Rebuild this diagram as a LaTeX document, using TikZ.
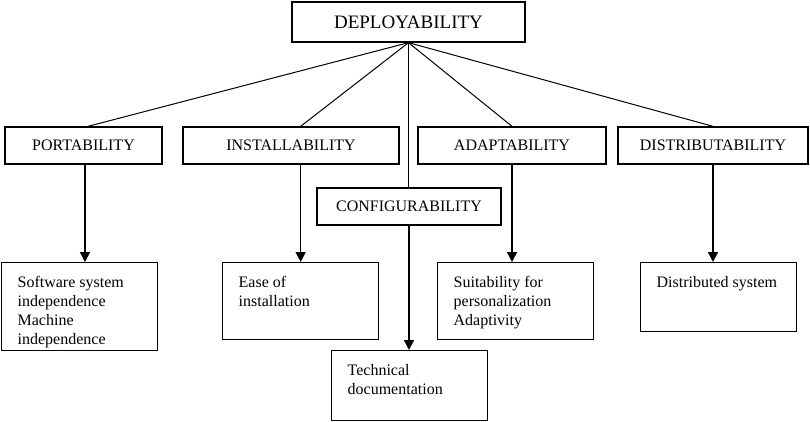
\documentclass[tikz,border=0pt]{standalone}
\usepackage{fontspec}
\setmainfont{Liberation Serif}
\usetikzlibrary{arrows.meta,positioning,calc}
\newcommand{\lblfont}{\fontsize{16}{19}\selectfont}
\newcommand{\topfont}{\fontsize{19}{22}\selectfont}
\newcommand{\leaftext}[2]{\begin{minipage}[t][#1][t]{124pt}\raggedright #2\end{minipage}}
\tikzset{
  topbox/.style={
    draw=black,fill=white,line width=1.3pt,
    minimum width=233pt,minimum height=40pt,
    inner sep=0pt,font=\topfont
  },
  attrbox/.style={
    draw=black,fill=white,line width=1.3pt,
    minimum height=37pt,inner sep=0pt,font=\lblfont
  },
  leafbox/.style={
    draw=black,fill=white,line width=1.3pt,anchor=north west,
    inner xsep=16pt,inner ysep=14pt,font=\lblfont
  },
  link/.style={draw=black,line width=1pt},
  arrow/.style={-{Triangle[length=10pt,width=10pt]},draw=black,line width=1.5pt}
}
\begin{document}
\begin{tikzpicture}[x=1pt,y=1pt]
\useasboundingbox (0,0) rectangle (810,-422);
% top level
\node[topbox] (dep) at (408.5,-22) {DEPLOYABILITY};
% attributes
\node[attrbox,minimum width=157pt] (port) at (83.5,-145.5) {PORTABILITY};
\node[attrbox,minimum width=216pt] (inst) at (291,-145.5) {INSTALLABILITY};
\node[attrbox,minimum width=188pt] (adapt) at (512,-145.5) {ADAPTABILITY};
\node[attrbox,minimum width=190pt] (distr) at (713,-145.5) {DISTRIBUTABILITY};
\node[attrbox,minimum width=184pt] (config) at (409,-206.5) {CONFIGURABILITY};
% sub-characteristics
\node[leafbox] (soft) at (1,-262) {\leaftext{60pt}{Software system\\independence\\Machine\\independence}};
\node[leafbox] (ease) at (222,-262) {\leaftext{49pt}{Ease of\\installation}};
\node[leafbox] (suit) at (437,-262) {\leaftext{49pt}{Suitability for\\personalization\\Adaptivity}};
\node[leafbox] (dsys) at (640,-262) {\leaftext{41pt}{Distributed system}};
\node[leafbox] (tech) at (331,-350) {\leaftext{42pt}{Technical\\documentation}};
% links from the top
\draw[link] (dep.south) -- ($(port.north)+(4.5,0)$);
\draw[link] (dep.south) -- (inst.north -| ease.north);
\draw[link] (dep.south) -- (adapt.north);
\draw[link] (dep.south) -- (distr.north);
\draw[link] (dep.south) -- (dep.south |- config.north);
% arrows down
\draw[arrow] ($(port.south)+(1.5,0)$) -- ($(port.south |- soft.north)+(1.5,0)$);
\draw[arrow] (inst.south -| ease.north) -- (ease.north);
\draw[arrow] (config.south) -- (config.south |- tech.north);
\draw[arrow] (adapt.south) -- (adapt.south |- suit.north);
\draw[arrow] (distr.south) -- (distr.south |- dsys.north);
\end{tikzpicture}
\end{document}
